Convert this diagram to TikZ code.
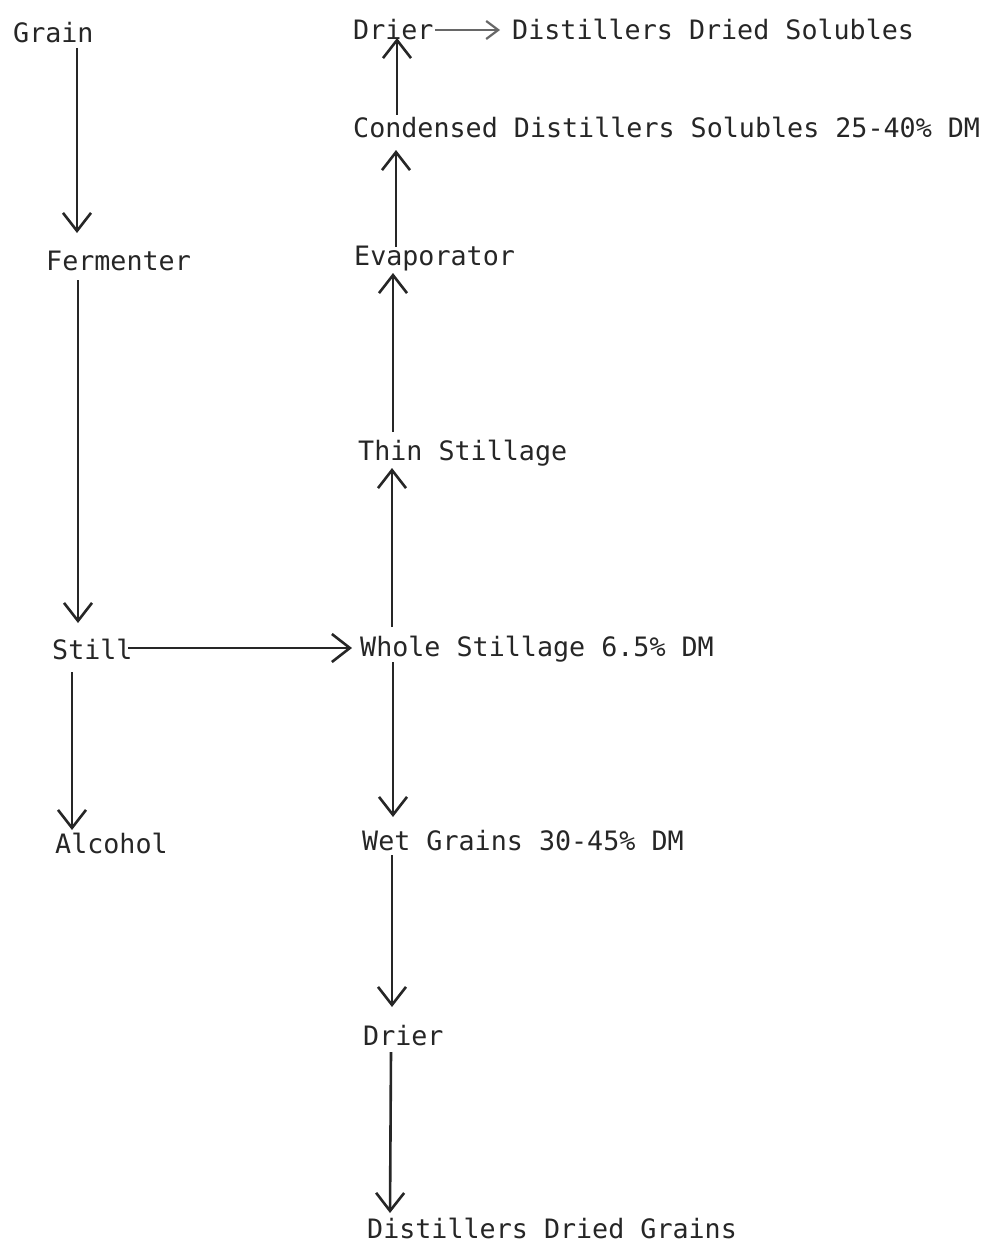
\documentclass[tikz,border=0pt]{standalone}
\usepackage{fontspec}
\newfontfamily\typew{DejaVu Sans Mono}
\usetikzlibrary{arrows.meta}
\definecolor{ink}{HTML}{262626}
\begin{document}
\begin{tikzpicture}[x=1pt,y=-1pt,
  lbl/.style={anchor=base west,inner sep=0pt,text=ink,font=\typew\fontsize{26.7}{32}\selectfont},
  arr/.style={draw=ink,line width=2.6pt,-{Straight Barb[length=18pt,width=28pt,line width=2.6pt]}},
  thinarr/.style={draw=ink!70,line width=1.6pt,-{Straight Barb[length=12pt,width=18pt,line width=2.2pt]}}]
\useasboundingbox (0,0) rectangle (984,1244);
\node[lbl] (grain) at (13,43) {Grain};
\node[lbl] (ferm) at (46,270) {Fermenter};
\node[lbl] (still) at (52,659) {Still};
\node[lbl] (alc) at (55,853) {Alcohol};
\node[lbl] (drierA) at (353,40) {Drier};
\node[lbl] (dds) at (512,40) {Distillers Dried Solubles};
\node[lbl] (cds) at (353,137) {Condensed Distillers Solubles 25-40\% DM};
\node[lbl] (evap) at (354,265) {Evaporator};
\node[lbl] (thin) at (358,460) {Thin Stillage};
\node[lbl] (whole) at (360,656) {Whole Stillage 6.5\% DM};
\node[lbl] (wet) at (362,850) {Wet Grains 30-45\% DM};
\node[lbl] (drierB) at (363,1045) {Drier};
\node[lbl] (ddg) at (367,1238) {Distillers Dried Grains};
\draw[arr] ([xshift=64pt,yshift=-5pt]grain.base west) -- ([xshift=31pt,yshift=37pt]ferm.base west);
\draw[arr] ([xshift=32pt,yshift=-10pt]ferm.base west) -- ([xshift=26pt,yshift=36pt]still.base west);
\draw[arr] ([xshift=76pt,yshift=11pt]still.base west) -- ([xshift=-8pt,yshift=8pt]whole.base west);
\draw[arr] ([xshift=20pt,yshift=-13pt]still.base west) -- ([xshift=17pt,yshift=23pt]alc.base west);
\draw[arr] ([xshift=32pt,yshift=29pt]whole.base west) -- ([xshift=34pt,yshift=-8pt]thin.base west);
\draw[arr] ([xshift=35pt,yshift=28pt]thin.base west) -- ([xshift=39pt,yshift=-8pt]evap.base west);
\draw[arr] ([xshift=42pt,yshift=18pt]evap.base west) -- ([xshift=43pt,yshift=-13pt]cds.base west);
\draw[arr] ([xshift=44pt,yshift=22pt]cds.base west) -- ([xshift=44pt,yshift=2pt]drierA.base west);
\draw[thinarr] ([xshift=82pt,yshift=10pt]drierA.base west) -- ([xshift=-12pt,yshift=10pt]dds.base west);
\draw[arr] ([xshift=33pt,yshift=-6pt]whole.base west) -- ([xshift=31pt,yshift=33pt]wet.base west);
\draw[arr] ([xshift=30pt,yshift=-5pt]wet.base west) -- ([xshift=29pt,yshift=38pt]drierB.base west);
\draw[arr] ([xshift=28pt,yshift=-7pt]drierB.base west) -- ([xshift=23pt,yshift=25pt]ddg.base west);
\end{tikzpicture}
\end{document}
